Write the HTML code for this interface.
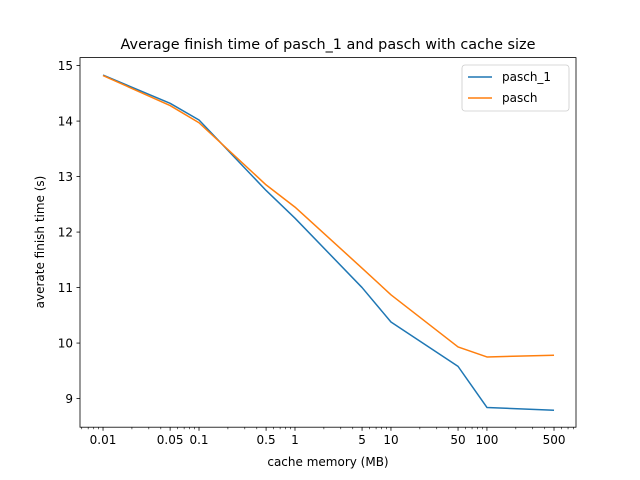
<!DOCTYPE html>
<html><head><meta charset="utf-8"><style>
body{margin:0;background:#fff;}
svg{display:block;font-family:"DejaVu Sans","Liberation Sans",sans-serif;}
</style></head><body>
<svg id="chart" width="640" height="480" viewBox="0 0 640 480" xmlns="http://www.w3.org/2000/svg">
<rect width="640" height="480" fill="#fff"/>
<text x="328" y="49" font-size="14.4" text-anchor="middle">Average finish time of pasch_1 and pasch with cache size</text>
<g id="marks"></g>
<g id="axes"></g>
<rect x="80" y="57.6" width="496" height="369.6" fill="none" stroke="#000" stroke-width="0.8"/>
<text x="328" y="466" font-size="12" text-anchor="middle">cache memory (MB)</text>
<text transform="translate(44,242) rotate(-90)" font-size="12" text-anchor="middle">averate finish time (s)</text>
<g>
<rect x="462" y="65" width="107" height="46" rx="3" fill="#fff" fill-opacity="0.8" stroke="#ccc" stroke-width="0.8"/>
<line x1="468" y1="77" x2="492" y2="77" stroke="#1f77b4" stroke-width="1.5"/>
<text x="502" y="81" font-size="12">pasch_1</text>
<line x1="468" y1="98" x2="492" y2="98" stroke="#ff7f0e" stroke-width="1.5"/>
<text x="502" y="102" font-size="12">pasch</text>
</g>
</svg>
<script>
const xValues=[0.01,0.05,0.1,0.5,1,5,10,50,100,500];
const pasch1Values=[14.83,14.32,14.02,12.75,12.25,11.0,10.38,9.58,8.84,8.79];
const paschValues=[14.82,14.28,13.97,12.85,12.45,11.35,10.87,9.93,9.75,9.78];
const xTickLabels=["0.01","0.05","0.1","0.5","1","5","10","50","100","500"];
const yTicks=[9,10,11,12,13,14,15];
const NS="http://www.w3.org/2000/svg";
const L=80,R=576,T=57.6,B=427.2;
const lmin=-2.24,lmax=2.928;
const ymin=8.484,ymax=15.144;
function xs(v){return L+(Math.log10(v)-lmin)/(lmax-lmin)*(R-L);}
function ys(v){return B-(v-ymin)/(ymax-ymin)*(B-T);}
const marks=document.getElementById('marks'),axes=document.getElementById('axes');
function mk(tag,attrs,parent){const e=document.createElementNS(NS,tag);for(const k in attrs)e.setAttribute(k,attrs[k]);parent.appendChild(e);return e;}
function line(vals,color,name){
 const p=mk('polyline',{points:vals.map((v,i)=>xs(xValues[i])+','+ys(v)).join(' '),fill:'none',stroke:color,'stroke-width':1.5,'stroke-linejoin':'round'},marks);
 
 
}
line(pasch1Values,'#1f77b4','series-pasch-1');
line(paschValues,'#ff7f0e','series-pasch');
xTickLabels.forEach((t,i)=>{
 const x=xs(xValues[i]);
 const tk=mk('line',{x1:x,x2:x,y1:B,y2:B+3.5,stroke:'#000','stroke-width':0.8},axes);
 
 
 const tx=mk('text',{x:x,y:B+17,'font-size':12,'text-anchor':'middle'},axes);
 tx.textContent=t;
 
 
});
for(let d=-3;d<=2;d++)for(let m=2;m<=9;m++){
 const v=m*Math.pow(10,d);const lv=Math.log10(v);
 if(lv<lmin||lv>lmax)continue;
 if(xValues.some(a=>Math.abs(a-v)<1e-9))continue;
 const x=xs(v);
 const mt=mk('line',{x1:x,x2:x,y1:B,y2:B+2,stroke:'#000','stroke-width':0.6},axes);
 
 
}
yTicks.forEach(t=>{
 const y=ys(t);
 const tk=mk('line',{x1:L-3.5,x2:L,y1:y,y2:y,stroke:'#000','stroke-width':0.8},axes);
 
 
 const tx=mk('text',{x:L-7,y:y+4.5,'font-size':12,'text-anchor':'end'},axes);
 tx.textContent=String(t);
 
 
});
</script>
</body></html>
